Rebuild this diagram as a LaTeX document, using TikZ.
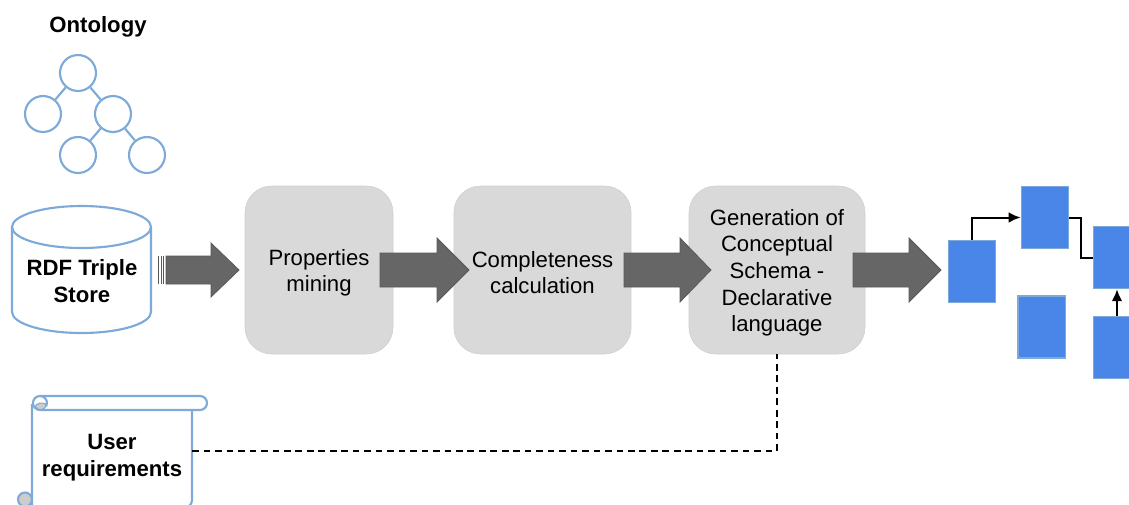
\documentclass[tikz,border=0pt]{standalone}
\usepackage{fontspec}
\setmainfont{Liberation Sans}
\usetikzlibrary{arrows.meta}
\definecolor{lineblue}{HTML}{7DAAD8}
\definecolor{fillblue}{HTML}{4A86E8}
\definecolor{boxgray}{HTML}{D9D9D9}
\definecolor{arrowgray}{HTML}{666666}
\definecolor{arrowedge}{HTML}{595959}
\definecolor{curlgray}{HTML}{CCCCCC}
\tikzset{
  treecircle/.style = {circle, draw=lineblue, line width=1.6pt, minimum size=27pt, inner sep=0pt},
  treeline/.style = {lineblue, line width=1.6pt},
  outline/.style = {draw=lineblue, line width=1.6pt},
  stepbox/.style = {rounded corners=20pt, fill=boxgray, draw=boxgray!95!black, line width=0.4pt, minimum height=126pt, align=center, font=\fontsize{16.6}{20}\selectfont},
  bluebox/.style = {fill=fillblue, draw=lineblue, line width=1pt, minimum width=35.5pt, minimum height=46.5pt},
  boldtext/.style = {align=center, font=\fontsize{16.6}{20}\selectfont\bfseries},
  fatarrow/.style = {fill=arrowgray, draw=arrowedge, line width=0.6pt, line join=miter},
  link/.style = {black, line width=1.5pt, -{Latex[length=9pt,width=8pt]}},
  dashlink/.style = {black, line width=1.1pt, dashed, dash pattern=on 5pt off 3.6pt}
}
\begin{document}
\begin{tikzpicture}[x = 0.75pt, y = -0.75pt]
\clip (0,0) rectangle (1129,504);

% ontology tree
\node[boldtext] (ontology) at (98,27) {Ontology};
\node[treecircle] (root) at (78,73) {};
\node[treecircle] (left) at (43,114) {};
\node[treecircle] (mid) at (113,114) {};
\node[treecircle] (midleft) at (78,155) {};
\node[treecircle] (midright) at (147,155) {};
\draw[treeline] (root) -- (left);
\draw[treeline] (root) -- (mid);
\draw[treeline] (mid) -- (midleft);
\draw[treeline] (mid) -- (midright);

% triple store
\draw[outline, fill=white] (12,227) -- (12,312) arc[start angle=180, end angle=0, x radius=69.5, y radius=21] -- (151,227);
\draw[outline] (81.5,227) ellipse[x radius=69.5, y radius=21];
\node[boldtext] (store) at (82,281) {RDF Triple\\Store};

% steps
\node[stepbox, minimum width=111pt] (mining) at (319,270) {\rule{0pt}{16pt}Properties\\mining};
\node[stepbox, minimum width=133pt] (calc) at (542.5,270) {\rule{0pt}{16pt}Completeness\\calculation};
\node[stepbox, minimum width=132pt] (gen) at (777,270) {\rule{0pt}{16pt}Generation of\\Conceptual\\Schema -\\Declarative\\language};

% thick arrows
\draw[arrowedge, line width=0.7pt] (158.5,256) -- (158.5,284);
\draw[arrowedge, line width=0.7pt] (161,256) -- (161,284);
\draw[arrowedge, line width=0.7pt] (163.5,256) -- (163.5,284);
\draw[fatarrow] (166,256) -- (211,256) -- (211,243) -- (239,270) -- (211,297) -- (211,284) -- (166,284) -- cycle;
\draw[fatarrow] (380,253) -- (437,253) -- (437,238) -- (469,270) -- (437,302) -- (437,287) -- (380,287) -- cycle;
\draw[fatarrow] (624,253) -- (680,253) -- (680,238) -- (711,270) -- (680,302) -- (680,287) -- (624,287) -- cycle;
\draw[fatarrow] (853,253) -- (909,253) -- (909,238) -- (941,270) -- (909,302) -- (909,287) -- (853,287) -- cycle;

% schema
\node[bluebox] (a) at (972,271.5) {};
\node[bluebox] (b) at (1045,217.5) {};
\node[bluebox] (c) at (1117,257.5) {};
\node[bluebox] (d) at (1041.5,327) {};
\node[bluebox] (e) at (1117,347.5) {};
\draw[link] (a.north) |- (b.west);
\draw[link, -] (b.east) -- ++(12,0) |- (c.west);
\draw[link] (e.north) -- (c.south);

% requirements scroll
\draw[outline, fill=curlgray] (25,499.5) circle[radius=7];
\draw[outline, fill=white] (32,404) -- (32,508) -- (184,508) arc[start angle=90, end angle=0, radius=8] -- (192,410);
\draw[outline, fill=white] (40,396) -- (200,396) arc[start angle=-90, end angle=90, radius=7] -- (40,410) arc[start angle=90, end angle=270, radius=7];
\draw[outline, fill=curlgray, line width=0.8pt] (35,407) .. controls (36,403) and (42,402) .. (46,404) .. controls (46,408) and (43,410) .. (40,410) -- cycle;
\draw[outline] (40,396) arc[start angle=-90, end angle=30, radius=7];
\node[boldtext, minimum width=120pt] (user) at (112,451) {\rule{0pt}{21pt}User\\requirements};
\draw[dashlink] (user.east) -| (gen.south);
\end{tikzpicture}
\end{document}
